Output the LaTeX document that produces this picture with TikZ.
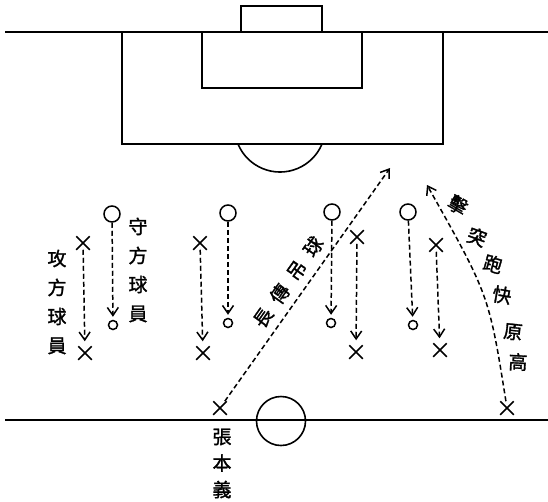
\documentclass[tikz,border=0pt]{standalone}
\usepackage{fontspec}
\newfontfamily\cjk[FakeBold=1.5]{Noto Sans CJK TC}
\usetikzlibrary{arrows.meta,shapes.misc}
\begin{document}
\begin{tikzpicture}[x=1pt,y=-1pt,line width=1.6pt,
 big/.style={circle,draw,minimum size=16pt,inner sep=0pt,line width=1.5pt},
 small/.style={circle,draw,minimum size=9pt,inner sep=0pt,line width=1.5pt},
 xm/.style={cross out,draw,minimum size=12pt,inner sep=0pt,line width=1.5pt},
 run/.style={dash pattern=on 5pt off 3pt,line width=1.5pt,-{Straight Barb[length=8pt,width=11pt,line width=1.5pt]}},
 lbl/.style={font=\cjk\fontsize{19pt}{29pt}\selectfont,inner sep=0pt,align=center}]
\useasboundingbox (0,0) rectangle (548,501);
% field
\draw (5,32) -- (548,32);
\draw (241,32) -- (241,6) -- (322,6) -- (322,32);
\draw (122,32) rectangle (443,144);
\draw (202,32) rectangle (362,88);
\draw (238,144) arc[start angle=157.4,end angle=22.6,radius=45.5];
\draw (5,420) -- (548,420);
\node[circle,draw,minimum size=49pt,inner sep=0pt,line width=1.6pt] (ball) at (281,421) {};
% group 1
\node[big] (d1) at (112,214) {};
\node[small] (s1) at (113,325) {};
\node[xm] (a1) at (83,243) {};
\node[xm] (e1) at (85,353) {};
\draw[run,shorten >=3pt] (d1) -- (s1);
\draw[run,shorten >=5pt] (a1) -- (e1);
% group 2
\node[big] (d2) at (228,213) {};
\node[small] (s2) at (228,323) {};
\node[xm] (a2) at (200,243) {};
\node[xm] (e2) at (203,353) {};
\draw[run,shorten >=3pt] (d2) -- (s2);
\draw[run,shorten >=5pt] (a2) -- (e2);
% group 3
\node[big] (d3) at (332,212) {};
\node[small] (s3) at (331,323) {};
\node[xm] (a3) at (357,237) {};
\node[xm] (e3) at (356,352) {};
\draw[run,shorten >=3pt] (d3) -- (s3);
\draw[run,shorten >=5pt] (a3) -- (e3);
% group 4
\node[big] (d4) at (408,212) {};
\node[small] (s4) at (413,325) {};
\node[xm] (a4) at (436,245) {};
\node[xm] (e4) at (440,350) {};
\draw[run,shorten >=3pt] (d4) -- (s4);
\draw[run,shorten >=5pt] (a4) -- (e4);
% long pass
\node[xm] (z) at (220,408) {};
\coordinate (p) at (390,168);
\draw[run] (z) -- (p);
% run of Gao
\node[xm] (g) at (507,408) {};
\coordinate (r) at (427,185);
\draw[run] (g) .. controls (489,295) .. (r);
% labels
\node[lbl] (t1) at (57,302) {攻\\方\\球\\員};
\node[lbl] (t2) at (138,270) {守\\方\\球\\員};
\node[lbl,font=\cjk\fontsize{19pt}{26.5pt}\selectfont] (t3) at (222,463.5) {張\\本\\義};
\node[lbl,rotate=54.7] (t4) at (288,282) {長\hspace{10pt}傳\hspace{10pt}吊\hspace{10pt}球};
\node[lbl,rotate=-30] (c1) at (458,205) {擊};
\node[lbl,rotate=-20] (c2) at (477,237) {突};
\node[lbl,rotate=-15] (c3) at (493,264) {跑};
\node[lbl,rotate=-10] (c4) at (502,295) {快};
\node[lbl,rotate=-6] (c5) at (513,332) {原};
\node[lbl,rotate=-3] (c6) at (518,362) {高};
\end{tikzpicture}
\end{document}
